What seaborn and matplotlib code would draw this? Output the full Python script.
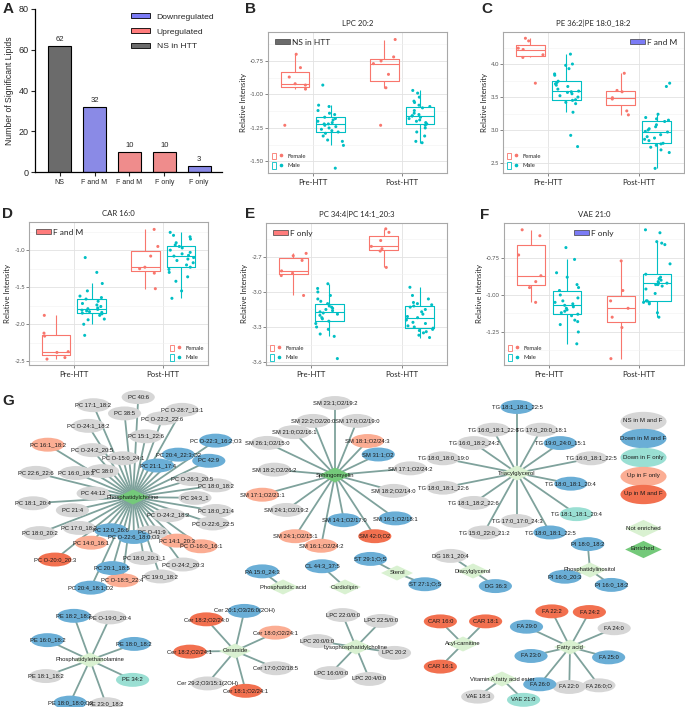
import numpy as np
import pandas as pd
import matplotlib
matplotlib.use('Agg')
import matplotlib.pyplot as plt
import seaborn as sns
from matplotlib.patches import Patch
from matplotlib.lines import Line2D
from matplotlib.path import Path
from matplotlib.transforms import Affine2D
from matplotlib.ticker import AutoMinorLocator
from matplotlib.legend_handler import HandlerTuple

sns.set_theme(style='white')
plt.rcParams['font.family'] = ['Liberation Sans', 'DejaVu Sans']
plt.rcParams['axes.unicode_minus'] = False
np.random.seed(3)  # jitter only

# ---------------- A: number of significant lipids ----------------
bar_labels = ['NS', 'F and M', 'F and M', 'F only', 'F only']
bar_counts = [62, 32, 10, 10, 3]
bar_status = ['NS in HTT', 'Downregulated', 'Upregulated', 'Upregulated', 'Downregulated']

# ---------------- B-F: relative intensity ----------------
lpc_f_pre = [-0.70, -0.80, -0.87, -0.92, -0.93, -0.96, -1.23]
lpc_m_pre = [-0.93, -1.08, -1.09, -1.12, -1.14, -1.15, -1.17, -1.18, -1.19, -1.20, -1.21, -1.22, -1.22,
             -1.23, -1.24, -1.25, -1.26, -1.27, -1.28, -1.29, -1.31, -1.34, -1.35, -1.38, -1.55]
lpc_f_post = [-0.59, -0.72, -0.75, -0.77, -0.85, -0.95, -1.23]
lpc_m_post = [-0.97, -0.99, -1.02, -1.05, -1.06, -1.08, -1.09, -1.10, -1.12, -1.14, -1.15, -1.16, -1.16,
              -1.17, -1.18, -1.19, -1.20, -1.21, -1.22, -1.23, -1.25, -1.28, -1.31, -1.35, -1.36]

pe_f_pre = [4.39, 4.35, 4.24, 4.22, 4.14, 4.10, 3.71]
pe_m_pre = [4.15, 4.00, 3.98, 3.93, 3.85, 3.83, 3.74, 3.72, 3.70, 3.68, 3.66, 3.62, 3.59,
            3.58, 3.57, 3.55, 3.52, 3.50, 3.46, 3.45, 3.42, 3.40, 3.27, 2.92, 2.75]
pe_f_post = [3.86, 3.60, 3.58, 3.49, 3.47, 3.29, 3.23]
pe_m_post = [3.71, 3.66, 3.24, 3.19, 3.17, 3.15, 3.13, 3.08, 3.05, 3.02, 3.00, 2.98, 2.97,
             2.93, 2.90, 2.88, 2.86, 2.84, 2.80, 2.79, 2.77, 2.74, 2.70, 2.66, 2.42]

car_f_pre = [-1.88, -2.12, -2.16, -2.37, -2.38, -2.45, -2.47]
car_m_pre = [-1.10, -1.30, -1.45, -1.55, -1.62, -1.64, -1.66, -1.69, -1.72, -1.74, -1.76, -1.78, -1.79,
             -1.80, -1.81, -1.82, -1.83, -1.84, -1.85, -1.86, -1.88, -1.93, -1.94, -2.00, -2.15]
car_f_post = [-0.72, -0.95, -1.08, -1.23, -1.25, -1.31, -1.52]
car_m_post = [-0.76, -0.80, -0.82, -0.85, -0.90, -0.93, -0.95, -0.97, -1.00, -1.03, -1.05, -1.07, -1.08,
              -1.10, -1.12, -1.14, -1.17, -1.20, -1.23, -1.26, -1.30, -1.36, -1.42, -1.55, -1.65]

pc_f_pre = [-2.67, -2.69, -2.73, -2.82, -2.84, -2.86, -3.03]
pc_m_pre = [-2.93, -2.97, -3.00, -3.03, -3.06, -3.08, -3.10, -3.12, -3.13, -3.14, -3.15, -3.16, -3.17,
            -3.18, -3.19, -3.20, -3.22, -3.23, -3.25, -3.27, -3.30, -3.32, -3.36, -3.38, -3.57]
pc_f_post = [-2.46, -2.49, -2.56, -2.61, -2.63, -2.65, -2.79]
pc_m_post = [-2.96, -3.03, -3.06, -3.09, -3.10, -3.11, -3.12, -3.13, -3.15, -3.17, -3.19, -3.21, -3.22,
             -3.24, -3.26, -3.27, -3.29, -3.30, -3.31, -3.32, -3.33, -3.34, -3.35, -3.37, -3.39]

vae_f_pre = [-0.56, -0.60, -0.73, -0.87, -0.91, -0.95, -1.05]
vae_m_pre = [-0.68, -0.76, -0.85, -0.88, -0.93, -0.95, -0.97, -1.00, -1.02, -1.04, -1.05, -1.06, -1.07,
             -1.08, -1.09, -1.10, -1.11, -1.12, -1.13, -1.14, -1.17, -1.18, -1.20, -1.25, -1.33]
vae_f_post = [-0.77, -0.97, -1.04, -1.09, -1.15, -1.22, -1.43]
vae_m_post = [-0.56, -0.58, -0.64, -0.65, -0.66, -0.79, -0.86, -0.88, -0.89, -0.90, -0.91, -0.92, -0.92,
              -0.93, -0.93, -0.94, -0.96, -0.99, -1.04, -1.04, -1.05, -1.05, -1.06, -1.12, -1.15]

# ---------------- G: lipid class network ----------------
# status: ns = NS in M and F, dn = Down in M and F, dnf = Down in F only, upf = Up in F only, up = Up in M and F
# nodes listed clockwise from the top of each class
pc_nodes = ['PC 40:6', 'PC 15:1_22:6', 'PC O-22:2_22:6', 'PC O-28:7_13:1', 'PC 21:1_17:4', 'PC 20:4_22:3;O2',
            'PC O-22:3_16:2;O3', 'PC 42:9', 'PC O-26:3_20:5', 'PC 18:0_18:2', 'PC 34:3_1', 'PC 18:0_21:4',
            'PC O-22:6_22:5', 'PC O-24:2_18:2', 'PC O-16:0_16:1', 'PC 14:1_20:3', 'PC O-24:2_20:3', 'PC O-41:9',
            'PC 19:0_18:2', 'PC 18:0_20:1_1', 'PC O-22:6_18:0;O3', 'PC O-18:5_22:4', 'PC 20:1_18:5',
            'PC 20:4_18:1;O2', 'PC 12:0_26:6', 'PC 14:0_16:1', 'PC O-20:0_20:3', 'PC 17:0_18:2', 'PC 18:0_20:2',
            'PC 21:4', 'PC 18:1_20:4', 'PC 44:12', 'PC 22:6_22:6', 'PC 16:0_18:3', 'PC 16:1_18:2', 'PC 38:0',
            'PC O-24:2_20:5', 'PC O-24:1_18:2', 'PC 17:1_18:2', 'PC O-15:0_24:1', 'PC 38:5']
pc_status = ['ns', 'ns', 'ns', 'ns', 'dn', 'dn',
             'dn', 'dn', 'ns', 'ns', 'ns', 'ns',
             'ns', 'ns', 'upf', 'upf', 'ns', 'ns',
             'ns', 'ns', 'dn', 'upf', 'dn',
             'dn', 'dn', 'upf', 'up', 'ns', 'ns',
             'ns', 'ns', 'ns', 'ns', 'ns', 'upf', 'ns',
             'ns', 'ns', 'ns', 'ns', 'ns']
sm_nodes = ['SM 23:1;O2/19:2', 'SM 17:0;O2/19:0', 'SM 18:1;O2/24:3', 'SM 31:1;O2', 'SM 17:1;O2/24:2',
            'SM 18:2;O2/14:0', 'SM 16:1;O2/18:1', 'SM 42:0;O2', 'SM 14:1;O2/17:0', 'SM 16:1;O2/24:2',
            'SM 24:1;O2/15:1', 'SM 24:1;O2/19:2', 'SM 17:1;O2/21:1', 'SM 18:2;O2/26:2', 'SM 26:1;O2/15:0',
            'SM 21:0;O2/16:1', 'SM 22:2;O2/20:0']
sm_status = ['ns', 'ns', 'upf', 'dn', 'ns', 'ns', 'dn', 'up', 'dn', 'upf', 'upf', 'ns', 'upf', 'ns', 'ns',
             'ns', 'ns']
tg_nodes = ['TG 18:1_18:1_22:5', 'TG 17:0_20:0_18:1', 'TG 19:0_24:0_15:1', 'TG 16:0_18:1_22:5',
            'TG 18:0_18:1_20:4', 'TG 18:1_18:1_20:4', 'TG 18:0_18:1_22:5', 'TG 17:0_17:0_24:3',
            'TG 15:0_22:0_21:2', 'TG 18:1_18:2_22:6', 'TG 18:0_18:1_22:6', 'TG 18:0_18:0_19:0',
            'TG 16:0_18:2_24:2', 'TG 16:0_18:1_22:6']
tg_status = ['dn', 'ns', 'dn', 'ns', 'dn', 'dnf', 'dn', 'ns', 'ns', 'ns', 'ns', 'ns', 'ns', 'ns']
pa_nodes, pa_status = ['PA 15:0_24:3'], ['dn']
cl_nodes, cl_status = ['CL 44:3_37:5'], ['dn']
st_nodes, st_status = ['ST 27:1;O;S', 'ST 29:1;O;S'], ['dn', 'dn']
dg_nodes, dg_status = ['DG 36:3', 'DG 18:1_20:4'], ['dn', 'ns']
pi_nodes, pi_status = ['PI 18:0_18:2', 'PI 16:0_18:2', 'PI 16:0_20:3'], ['dn', 'dn', 'dn']
pe_nodes = ['PE O-19:0_20:4', 'PE 18:0_18:2', 'PE 34:2', 'PE 23:0_18:2', 'PE 18:0_18:0;O2',
            'PE 18:1_18:2', 'PE 16:0_18:2', 'PE 18:2_18:2']
pe_status = ['ns', 'dn', 'dnf', 'ns', 'dn', 'ns', 'dn', 'dn']
cer_nodes = ['Cer 20:1;O3/26:0(2OH)', 'Cer 18:0;O2/24:1', 'Cer 17:0;O2/18:5', 'Cer 18:1;O2/24:1',
             'Cer 29:2;O3/15:1(2OH)', 'Cer 18:2;O2/24:1', 'Cer 18:2;O2/24:0']
cer_status = ['dn', 'upf', 'ns', 'up', 'ns', 'up', 'up']
lpc_nodes = ['LPC 22:0/0:0', 'LPC 22:5/0:0', 'LPC 20:2', 'LPC 20:4/0:0', 'LPC 16:0/0:0', 'LPC 20:0/0:0']
lpc_status = ['ns'] * 6
car_nodes, car_status = ['CAR 16:1', 'CAR 16:0', 'CAR 18:1'], ['up', 'up', 'up']
vae_nodes, vae_status = ['VAE 21:0', 'VAE 18:3'], ['dnf', 'ns']
fa_nodes = ['FA 24:2', 'FA 24:0', 'FA 25:0', 'FA 26:0;O', 'FA 22:0', 'FA 26:0', 'FA 23:0', 'FA 29:0', 'FA 22:2']
fa_status = ['up', 'ns', 'dn', 'ns', 'ns', 'dn', 'dn', 'dn', 'up']

enriched_classes = ['Phosphatidylcholine', 'Sphingomyelin']

# ---------------- figure ----------------
W, H = 685, 707
fig = plt.figure(figsize=(W / 100, H / 100), dpi=100)


def px_axes(l, t, r, b):
    return fig.add_axes([l / W, 1 - b / H, (r - l) / W, (b - t) / H])


# ---- A
axA = px_axes(35, 9, 222, 172)
bar_pal = {'Downregulated': '#7b7bf5', 'Upregulated': '#ff7c7c', 'NS in HTT': '#6b6b6b'}
bar_df = pd.DataFrame({'slot': range(len(bar_counts)), 'count': bar_counts, 'status': bar_status})
sns.barplot(data=bar_df, x='slot', y='count', hue='status', palette=bar_pal, dodge=False,
            width=0.66, edgecolor='black', linewidth=0.8, legend=False, ax=axA)
for c in axA.containers:
    axA.bar_label(c, fontsize=5.5, padding=2)
axA.set_xlim(-0.71, 4.66)
axA.set_ylim(0, 80)
axA.set_yticks([0, 20, 40, 60, 80])
axA.set_xticks(range(len(bar_labels)))
axA.set_xticklabels(bar_labels, fontsize=5)
axA.tick_params(axis='y', labelsize=6.5, length=3, width=0.8, direction='out', left=True, pad=1.5)
axA.tick_params(axis='x', length=3, width=0.8, direction='out', bottom=True, pad=2)
for s in ['top', 'right']:
    axA.spines[s].set_visible(False)
for s in ['left', 'bottom']:
    axA.spines[s].set_linewidth(0.9)
    axA.spines[s].set_color('black')
axA.set_xlabel('')
axA.set_ylabel('Number of Significant Lipids', fontsize=6.2, labelpad=3)
axA.legend([Patch(facecolor=bar_pal[k], edgecolor='black', linewidth=0.6) for k in
            ['Downregulated', 'Upregulated', 'NS in HTT']],
           ['Downregulated', 'Upregulated', 'NS in HTT'], loc='upper right', bbox_to_anchor=(1.0, 1.02),
           fontsize=6.1, frameon=False, handlelength=2.2, handleheight=0.55, labelspacing=0.85,
           handletextpad=0.8)

# ---- B-F
sex_colors = {'Female': '#F8766D', 'Male': '#00BFC4'}
tag_colors = {'NS in HTT': '#6b6b6b', 'F and M': '#7b7bf5', 'F only': '#ff7c7c'}
box_font = ['Lato', 'DejaVu Sans']


def lipid_box(rect, title, f_pre, m_pre, f_post, m_post, yticks, ylim, ytickfmt,
              tag, tag_color, tag_loc, sex_loc):
    ax = px_axes(*rect)
    df = pd.DataFrame({
        'time': ['Pre-HTT'] * (len(f_pre) + len(m_pre)) + ['Post-HTT'] * (len(f_post) + len(m_post)),
        'sex': ['Female'] * len(f_pre) + ['Male'] * len(m_pre) + ['Female'] * len(f_post) + ['Male'] * len(m_post),
        'value': f_pre + m_pre + f_post + m_post,
    })
    kw = dict(data=df, x='time', y='value', hue='sex', order=['Pre-HTT', 'Post-HTT'],
              hue_order=['Female', 'Male'], palette=sex_colors, legend=False, ax=ax)
    sns.boxplot(fill=False, width=0.8, gap=0.2, showfliers=False, showcaps=False, linewidth=0.8, **kw)
    sns.stripplot(dodge=True, jitter=0.3, size=2.2, zorder=3, **kw)
    ax.set_xlim(-0.5, 1.5)
    ax.set_ylim(*ylim)
    ax.set_yticks(yticks)
    ax.set_yticklabels([ytickfmt.format(v) for v in yticks], family=box_font)
    ax.yaxis.set_minor_locator(AutoMinorLocator(2))
    ax.set_axisbelow(True)
    ax.grid(which='major', color='#e2e2e2', lw=0.6)
    ax.grid(which='minor', axis='y', color='#f1f1f1', lw=0.4)
    ax.tick_params(axis='y', which='major', labelsize=4.3, labelcolor='#555555', length=2,
                   width=0.5, color='#555555', left=True, pad=1)
    ax.tick_params(axis='x', labelsize=5.6, labelcolor='#222222', length=2, width=0.5,
                   color='#555555', bottom=True, pad=2)
    ax.tick_params(which='minor', length=0)
    for lab in ax.get_xticklabels():
        lab.set_family(box_font)
    for s in ax.spines.values():
        s.set_color('#a8a8a8')
        s.set_linewidth(0.8)
    ax.set_xlabel('')
    ax.set_ylabel('Relative Intensity', fontsize=5.6, family=box_font, labelpad=2)
    ax.set_title(title, fontsize=5.6, family=box_font, pad=4)
    sex_handles = [(Patch(facecolor='white', edgecolor=c, linewidth=0.6),
                    Line2D([], [], marker='o', ls='', color=c, markersize=1.6)) for c in sex_colors.values()]
    leg = ax.legend(sex_handles, list(sex_colors), handler_map={tuple: HandlerTuple(ndivide=None)},
                    loc=sex_loc, prop={'family': box_font, 'size': 4.2}, frameon=False,
                    handlelength=1.9, handleheight=1.4, labelspacing=0.5, borderaxespad=0.3)
    ax.add_artist(leg)
    ax.legend([Patch(facecolor=tag_color, edgecolor='#404040', linewidth=0.5)], [tag], loc=tag_loc,
              prop={'family': box_font, 'size': 6}, frameon=False, handlelength=1.8, handleheight=0.5,
              handletextpad=0.3, borderaxespad=0.4)
    return ax


lipid_box((268, 32, 447, 173), 'LPC 20:2', lpc_f_pre, lpc_m_pre, lpc_f_post, lpc_m_post,
          [-1.50, -1.25, -1.00, -0.75], (-1.586, -0.534), '{:.2f}',
          'NS in HTT', tag_colors['NS in HTT'], 'upper left', 'lower left')
lipid_box((503, 32, 684, 173), 'PE 36:2|PE 18:0_18:2', pe_f_pre, pe_m_pre, pe_f_post, pe_m_post,
          [2.5, 3.0, 3.5, 4.0], (2.35, 4.485), '{:.1f}',
          'F and M', tag_colors['F and M'], 'upper right', 'lower left')
lipid_box((29, 222, 208, 365), 'CAR 16:0', car_f_pre, car_m_pre, car_f_post, car_m_post,
          [-2.5, -2.0, -1.5, -1.0], (-2.55, -0.62), '{:.1f}',
          'F and M', tag_colors['F only'], 'upper left', 'lower right')
lipid_box((266, 223, 447, 365), 'PC 34:4|PC 14:1_20:3', pc_f_pre, pc_m_pre, pc_f_post, pc_m_post,
          [-3.6, -3.3, -3.0, -2.7], (-3.625, -2.41), '{:.1f}',
          'F only', tag_colors['F only'], 'upper left', 'lower left')
lipid_box((504, 223, 684, 365), 'VAE 21:0', vae_f_pre, vae_m_pre, vae_f_post, vae_m_post,
          [-1.25, -1.00, -0.75], (-1.473, -0.514), '{:.2f}',
          'F only', tag_colors['F and M'], 'upper center', 'lower left')

# ---- G network
axG = px_axes(0, 380, 685, 707)
axG.set_xlim(0, W)
axG.set_ylim(H, 380)
axG.axis('off')

status_colors = {'ns': '#d6d6d6', 'dn': '#6aaed6', 'dnf': '#9adfd3', 'upf': '#fbad93', 'up': '#f2704f'}
status_names = {'ns': 'NS in M and F', 'dn': 'Down in M and F', 'dnf': 'Down in F only',
                'upf': 'Up in F only', 'up': 'Up in M and F'}
hub_colors = {'Not enriched': '#d9f1d1', 'Enriched': '#74c97a'}

# radial layout per class: centre (px), first angle (deg clockwise from top),
# angular step (None = spread over full circle), ring radii, ring sequence, horizontal stretch
hub_layout = {
    'Phosphatidylcholine': (133, 497, 3, None, [100, 84, 62, 40, 74],
                            'ACBADCABCBCBBDBCBDBCDBEADCACACADACADCBADB', 1.0),
    'Sphingomyelin': (335, 475, 0, None, [72, 58, 46], 'ABCCABAACAABABABB', 1.05),
    'Triacylglycerol': (517, 473, 0, None, [66, 48], 'ABBABAABABAABB', 1.15),
    'Phosphatidic acid': (283, 587, 307, None, [26], 'A', 1.0),
    'Cardiolipin': (345, 587, 312, None, [31], 'A', 1.0),
    'Sterol': (397, 573, 112, 186, [30], 'A', 1.0),
    'Diacylglycerol': (473, 571, 124, 180, [27], 'A', 1.0),
    'Phosphatidylinositol': (590, 570, 355, 130, [26], 'A', 1.0),
    'Phosphatidylethanolamine': (90, 660, 25, None, [47], 'A', 1.0),
    'Ceramide': (235, 651, 12, None, [41], 'A', 1.1),
    'Lysophosphatidylcholine': (356, 647, 340, None, [34], 'A', 1.15),
    'Acyl-carnitine': (463, 644, 225, 90, [32], 'A', 1.0),
    'Vitamin A fatty acid ester': (502, 679, 134, 100, [30], 'A', 1.0),
    'Fatty acid': (570, 647, 29, 38, [40, 48], 'AB', 1.0),
}
groups = [
    ('Phosphatidylcholine', pc_nodes, pc_status), ('Sphingomyelin', sm_nodes, sm_status),
    ('Triacylglycerol', tg_nodes, tg_status), ('Phosphatidic acid', pa_nodes, pa_status),
    ('Cardiolipin', cl_nodes, cl_status), ('Sterol', st_nodes, st_status),
    ('Diacylglycerol', dg_nodes, dg_status), ('Phosphatidylinositol', pi_nodes, pi_status),
    ('Phosphatidylethanolamine', pe_nodes, pe_status), ('Ceramide', cer_nodes, cer_status),
    ('Lysophosphatidylcholine', lpc_nodes, lpc_status), ('Acyl-carnitine', car_nodes, car_status),
    ('Vitamin A fatty acid ester', vae_nodes, vae_status), ('Fatty acid', fa_nodes, fa_status),
]

node_rows, hub_rows = [], []
for hub, names, status in groups:
    cx, cy, a0, step, radii, rings, sx = hub_layout[hub]
    step = 360 / len(names) if step is None else step
    hub_rows.append({'x': cx, 'y': cy, 'name': hub,
                     'kind': 'Enriched' if hub in enriched_classes else 'Not enriched'})
    for k, (name, st) in enumerate(zip(names, status)):
        ang = np.deg2rad(a0 + k * step)
        r = radii['ABCDE'.index(rings[k % len(rings)])]
        x, y = cx + sx * r * np.sin(ang), cy - r * np.cos(ang)
        node_rows.append({'x': x, 'y': y, 'name': name, 'status': st})
        axG.plot([cx, x], [cy, y], color='#7fa29c', lw=1.3, zorder=1, solid_capstyle='butt')
nodes = pd.DataFrame(node_rows)
hubs = pd.DataFrame(hub_rows)

ellipse = Path.unit_circle().transformed(Affine2D().scale(1, 0.42))
diamond = Path([(-1, 0), (0, 0.47), (1, 0), (0, -0.47), (-1, 0)],
               [Path.MOVETO, Path.LINETO, Path.LINETO, Path.LINETO, Path.CLOSEPOLY])

sns.scatterplot(data=nodes, x='x', y='y', hue='status', palette=status_colors, marker=ellipse,
                s=570, linewidth=0, legend=False, zorder=2, ax=axG)
sns.scatterplot(data=hubs, x='x', y='y', hue='kind', palette=hub_colors, marker=diamond,
                s=530, linewidth=0, legend=False, zorder=3, ax=axG)
for _, r in nodes.iterrows():
    axG.text(r.x, r.y, r['name'], fontsize=4.2, ha='center', va='center', color='#1a1a1a', zorder=5)
for _, r in hubs.iterrows():
    axG.text(r.x, r.y, r['name'], fontsize=4.2, ha='center', va='center', color='#1a1a1a', zorder=5)

# legend of panel G
leg_y = [421, 438, 457, 476, 494]
for st, yy in zip(status_colors, leg_y):
    axG.scatter([643], [yy], marker=ellipse, s=1100, color=status_colors[st], linewidth=0, zorder=2)
    axG.text(643, yy, status_names[st], fontsize=4.4, ha='center', va='center', color='#1a1a1a', zorder=5)
for kind, yy in zip(hub_colors, [528, 549]):
    axG.scatter([643], [yy], marker=diamond, s=700, color=hub_colors[kind], linewidth=0, zorder=2)
    axG.text(643, yy, kind, fontsize=4.4, ha='center', va='center', color='#1a1a1a', zorder=5)
axG.set_xlabel('')
axG.set_ylabel('')

# panel letters
for letter, (lx, ly) in {'A': (8, 9), 'B': (250, 9), 'C': (487, 9), 'D': (8, 214),
                         'E': (250, 214), 'F': (485, 215), 'G': (8, 401)}.items():
    fig.text(lx / W, 1 - ly / H, letter, fontsize=11, fontweight='bold', ha='center', va='center')

fig.savefig('out.png', dpi=100)
